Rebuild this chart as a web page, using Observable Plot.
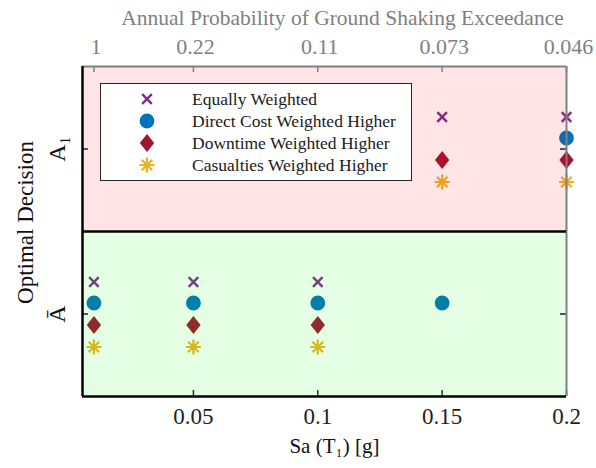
<!DOCTYPE html>
<html>
<head>
<meta charset="utf-8">
<script src="https://cdn.jsdelivr.net/npm/d3@7"></script>
<script src="https://cdn.jsdelivr.net/npm/@observablehq/plot@0.6"></script>
<style>
  html, body { margin: 0; padding: 0; background: #fff; }
  #wrap { position: relative; width: 596px; height: 468px; font-family: "Liberation Serif", "Times New Roman", serif; }
  #wrap svg, #wrap svg text { font-family: "Liberation Serif", "Times New Roman", serif !important; }
  #legend { position: absolute; left: 100px; top: 83px; width: 312px; height: 98px; border: 1px solid #262626; background: #fff; box-sizing: border-box; }
  .row { position: absolute; left: 0; height: 22px; display: flex; align-items: center; font-size: 17.5px; color: #1a1a1a; }
  .row svg { position: absolute; left: 35px; }
  .row span { position: absolute; left: 91px; white-space: nowrap; }
</style>
</head>
<body>
<div id="wrap"><div id="legend"></div></div>
<script>
// ---- data ----
const sa = [0.01, 0.05, 0.1, 0.15, 0.2];                 // Sa(T1) [g]
const probLabels = ["1", "0.22", "0.11", "0.073", "0.046"]; // annual probability of exceedance
const decisions = ["Abar", "A1"];                       // y categories, bottom to top
const decisionLabels = ["Ā", "A₁"];
const equallyWeighted   = ["Abar", "Abar", "Abar", "A1", "A1"];
const directCostHigher  = ["Abar", "Abar", "Abar", "Abar", "A1"];
const downtimeHigher    = ["Abar", "Abar", "Abar", "A1", "A1"];
const casualtiesHigher  = ["Abar", "Abar", "Abar", "A1", "A1"];
const bottomTicks = [0.05, 0.1, 0.15, 0.2];
const seriesNames = ["Equally Weighted", "Direct Cost Weighted Higher", "Downtime Weighted Higher", "Casualties Weighted Higher"];
const colors = ["#7E2F8E", "#0072BD", "#A2142F", "#EDB120"];

// ---- custom MATLAB-like symbols ----
const timesSym = {draw(c, size) { const s = Math.sqrt(size / Math.PI); c.moveTo(-s, -s); c.lineTo(s, s); c.moveTo(s, -s); c.lineTo(-s, s); }};
const circleSym = {draw(c, size) { const s = Math.sqrt(size / Math.PI); c.moveTo(s, 0); c.arc(0, 0, s, 0, 2 * Math.PI); }};
const diamondSym = {draw(c, size) { const s = Math.sqrt(size / Math.PI); const h = s * 1.25, w = s; c.moveTo(0, -h); c.lineTo(w, 0); c.lineTo(0, h); c.lineTo(-w, 0); c.closePath(); }};
const asteriskSym = {draw(c, size) { const s = Math.sqrt(size / Math.PI); const d = s * Math.SQRT1_2;
  c.moveTo(0, -s); c.lineTo(0, s); c.moveTo(-s, 0); c.lineTo(s, 0);
  c.moveTo(-d, -d); c.lineTo(d, d); c.moveTo(d, -d); c.lineTo(-d, d); }};

const series = [
  {name: seriesNames[0], values: equallyWeighted,  sym: timesSym,    r: 4.8, filled: false, sw: 2.5, dy: -32},
  {name: seriesNames[1], values: directCostHigher, sym: circleSym,   r: 7.4, filled: true,  sw: 0,   dy: -11},
  {name: seriesNames[2], values: downtimeHigher,   sym: diamondSym,  r: 7.2, filled: true,  sw: 0,   dy: 11},
  {name: seriesNames[3], values: casualtiesHigher, sym: asteriskSym, r: 7.5, filled: false, sw: 2.2, dy: 33}
];
series.forEach((s, i) => s.color = colors[i]);

const xDomain = [0.0054, 0.2];
const yIndex = d => decisions.indexOf(d);
const yLo = -0.5, yHi = decisions.length - 0.5;
const font = "Liberation Serif, Times New Roman, serif";

const dotMarks = series.map(s => Plot.dot(s.values.map((v, i) => ({sa: sa[i], decision: v})), {
  x: "sa", y: d => yIndex(d.decision), symbol: s.sym, r: s.r, dy: s.dy,
  fill: s.filled ? s.color : "none", stroke: s.filled ? "none" : s.color, strokeWidth: s.sw
}));

const chart = Plot.plot({
  width: 596, height: 468,
  marginLeft: 82, marginRight: 30, marginTop: 66, marginBottom: 72,
  style: {fontFamily: font, background: "transparent"},
  x: {domain: xDomain, axis: null},
  y: {domain: [yLo, yHi], axis: null},
  marks: [
    ...dotMarks,
    // shaded regions (drawn over the markers, like semi-transparent patches)
    Plot.rect([decisions[0]], {x1: () => xDomain[0], x2: () => xDomain[1], y1: d => yIndex(d) - 0.5, y2: d => yIndex(d) + 0.5, fill: "#00ff00", fillOpacity: 0.1}),
    Plot.rect([decisions[1]], {x1: () => xDomain[0], x2: () => xDomain[1], y1: d => yIndex(d) - 0.5, y2: d => yIndex(d) + 0.5, fill: "#ff0000", fillOpacity: 0.1}),
    // inner ticks
    Plot.ruleX(bottomTicks, {x: d => d, insetTop: 324, stroke: "#1b3a1b", strokeWidth: 1.5}),
    Plot.ruleX(sa, {x: d => d, insetBottom: 324, stroke: "#808080", strokeWidth: 1.5}),
    Plot.ruleY(decisions, {y: d => yIndex(d), insetRight: 478, stroke: "#222", strokeWidth: 1.5}),
    Plot.ruleY(decisions, {y: d => yIndex(d), insetLeft: 478, stroke: "#222", strokeWidth: 1.5}),
    // frame
    Plot.ruleX([xDomain[1]], {x: d => d, stroke: "#808080", strokeWidth: 2}),
    Plot.ruleY([yHi], {y: d => d, stroke: "#808080", strokeWidth: 2}),
    Plot.ruleY([0.5], {y: d => d, stroke: "#000", strokeWidth: 2.5}),
    Plot.ruleY([yLo], {y: d => d, stroke: "#000", strokeWidth: 2.5}),
    Plot.ruleX([xDomain[0]], {x: d => d, stroke: "#000", strokeWidth: 2.5}),
    // axes
    Plot.axisX(bottomTicks, {anchor: "bottom", tickSize: 0, tickPadding: 11, fontSize: 23, fill: "#222", label: null, tickFormat: d => String(d)}),
    Plot.axisX(sa, {anchor: "top", tickSize: 0, tickPadding: 13, fontSize: 22, fill: "#808080", label: null, dx: 2, tickFormat: (d, i) => probLabels[sa.indexOf(d)]}),
    Plot.text(decisions, {y: d => yIndex(d), text: d => decisionLabels[yIndex(d)], frameAnchor: "left", dx: -18, rotate: -90, textAnchor: "middle", lineAnchor: "bottom", fontSize: 24, fill: "#111"}),
    Plot.text(["Optimal Decision"], {text: d => d, frameAnchor: "left", dx: -50, dy: -9, rotate: -90, textAnchor: "middle", lineAnchor: "bottom", fontSize: 23, fill: "#111"}),
    Plot.text(["Annual Probability of Ground Shaking Exceedance"], {text: d => d, frameAnchor: "top", dy: -42, dx: 18, lineAnchor: "bottom", fontSize: 21.5, fill: "#808080"}),
    Plot.text(["Sa (T₁) [g]"], {text: d => d, frameAnchor: "bottom", dy: 56, dx: 10, lineAnchor: "bottom", fontSize: 21, fill: "#111"})
  ]
});
document.getElementById("wrap").prepend(chart);
chart.querySelectorAll("text").forEach(t => t.style.fontFamily = "'Liberation Serif', 'Times New Roman', serif");

// ---- legend ----
const legend = document.getElementById("legend");
const rowTops = [4, 26, 48, 70];
series.forEach((s, i) => {
  const row = document.createElement("div");
  row.className = "row";
  row.style.top = rowTops[i] + "px";
  row.style.width = "100%";
  const svg = d3.create("svg").attr("width", 22).attr("height", 22).attr("viewBox", "-11 -11 22 22");
  svg.append("path")
    .attr("d", d3.symbol(s.sym, Math.PI * s.r * s.r)())
    .attr("fill", s.filled ? s.color : "none")
    .attr("stroke", s.filled ? "none" : s.color)
    .attr("stroke-width", s.sw);
  row.appendChild(svg.node());
  const span = document.createElement("span");
  span.textContent = s.name;
  row.appendChild(span);
  legend.appendChild(row);
});
</script>
</body>
</html>
